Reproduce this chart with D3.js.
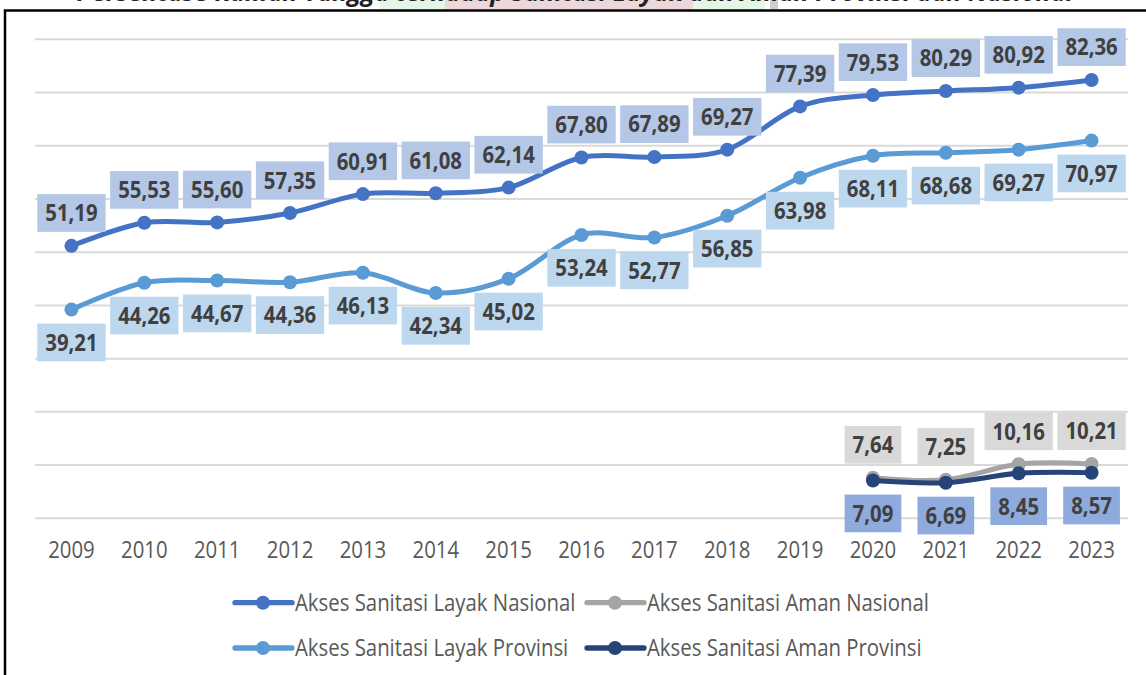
<!DOCTYPE html>
<html>
<head>
<meta charset="utf-8">
<script src="https://cdn.jsdelivr.net/npm/d3@7/dist/d3.min.js"></script>
<style>
  html, body { margin: 0; padding: 0; background: #fff; }
  svg { display: block; }
</style>
</head>
<body>
<svg id="chart" width="1146" height="675"></svg>
<script>
// ---- data ----
const years = [2009, 2010, 2011, 2012, 2013, 2014, 2015, 2016, 2017, 2018, 2019, 2020, 2021, 2022, 2023];
const layakNasional = [51.19, 55.53, 55.60, 57.35, 60.91, 61.08, 62.14, 67.80, 67.89, 69.27, 77.39, 79.53, 80.29, 80.92, 82.36];
const layakProvinsi = [39.21, 44.26, 44.67, 44.36, 46.13, 42.34, 45.02, 53.24, 52.77, 56.85, 63.98, 68.11, 68.68, 69.27, 70.97];
const amanNasional  = [null, null, null, null, null, null, null, null, null, null, null, 7.64, 7.25, 10.16, 10.21];
const amanProvinsi  = [null, null, null, null, null, null, null, null, null, null, null, 7.09, 6.69, 8.45, 8.57];
const yTicks = [0, 10, 20, 30, 40, 50, 60, 70, 80, 90];
const seriesNames = [
  "Akses Sanitasi Layak Nasional",
  "Akses Sanitasi Aman Nasional",
  "Akses Sanitasi Layak Provinsi",
  "Akses Sanitasi Aman Provinsi"
];
const titleText = "Persentase Rumah Tangga terhadap Sanitasi Layak dan Aman Provinsi dan Nasional";

// ---- styling ----
const FONT = "'Open Sans', 'Noto Sans', sans-serif";
const SX = 0.87;          // horizontal condensing of text
const FS = 23.4;          // font size for labels and axis
const series = [
  { name: seriesNames[0], values: layakNasional, color: "#4472c4", box: "#b4c7e7", pos: "above" },
  { name: seriesNames[2], values: layakProvinsi, color: "#5b9bd5", box: "#bdd7ee", pos: "below" },
  { name: seriesNames[1], values: amanNasional,  color: "#a5a5a5", box: "#d9d9d9", pos: "above" },
  { name: seriesNames[3], values: amanProvinsi,  color: "#264478", box: "#8faadc", pos: "below" }
];
const legendOrder = [
  { s: series[0], col: 0, row: 0 },
  { s: series[2], col: 1, row: 0 },
  { s: series[1], col: 0, row: 1 },
  { s: series[3], col: 1, row: 1 }
];

const svg = d3.select("#chart");
svg.append("rect").attr("width", 1146).attr("height", 675).attr("fill", "#fff");

// ---- title strip along the top edge ----
const strip = svg.append("g");
[[380, 445, "#e4f6e8"], [445, 693, "#ecd8db"], [693, 765, "#e2f7e6"], [770, 778, "#cfcfcf"]].forEach(([a, b, c]) => {
  strip.append("rect").attr("x", a).attr("y", 0).attr("width", b - a).attr("height", 9).attr("fill", c);
});
strip.append("text")
  .attr("x", 575).attr("y", 1)
  .attr("text-anchor", "middle")
  .attr("font-family", FONT).attr("font-size", 25)
  .attr("font-weight", "bold").attr("font-style", "italic")
  .attr("fill", "#222")
  .text(titleText);

// ---- frame ----
svg.append("rect")
  .attr("x", 5).attr("y", 10.5)
  .attr("width", 1160).attr("height", 700)
  .attr("fill", "none").attr("stroke", "#000").attr("stroke-width", 2.5);

// ---- scales ----
const x = d3.scaleBand().domain(years).range([35, 1128]);
const cx = yr => x(yr) + x.bandwidth() / 2;
const y = d3.scaleLinear().domain([0, 90]).range([518.3, 39.3]);

// ---- gridlines ----
svg.append("g").selectAll("line").data(yTicks).join("line")
  .attr("x1", 35).attr("x2", 1128)
  .attr("y1", d => y(d)).attr("y2", d => y(d))
  .attr("stroke", "#d9d9d9").attr("stroke-width", 2);

// ---- x axis ----
const xAxis = svg.append("g")
  .attr("transform", `translate(0,${y(0)})`)
  .call(d3.axisBottom(x).tickSize(0).tickPadding(0));
xAxis.select(".domain").remove();
xAxis.selectAll("text")
  .attr("y", 0).attr("dy", null)
  .attr("transform", `translate(0,40) scale(${SX},1)`)
  .attr("font-family", FONT).attr("font-size", FS)
  .attr("fill", "#595959");

// ---- lines & markers ----
const line = d3.line()
  .defined(d => d.v != null)
  .x(d => cx(d.year))
  .y(d => y(d.v))
  .curve(d3.curveCatmullRom.alpha(0));

const pts = s => years.map((yr, i) => ({ year: yr, v: s.values[i] }));

series.forEach(s => {
  svg.append("path")
    .datum(pts(s))
    .attr("d", line)
    .attr("fill", "none")
    .attr("stroke", s.color)
    .attr("stroke-width", 5)
    .attr("stroke-linecap", "round")
    .attr("stroke-linejoin", "round");
  svg.append("g").selectAll("circle")
    .data(pts(s).filter(d => d.v != null)).join("circle")
    .attr("cx", d => cx(d.year)).attr("cy", d => y(d.v))
    .attr("r", 7)
    .attr("fill", s.color);
});

// ---- data labels ----
const fmt = v => v.toFixed(2).replace(".", ",");
const BOX_H = 37.7, PAD_X = 8, GAP = 14;
series.forEach(s => {
  const g = svg.append("g");
  pts(s).filter(d => d.v != null).forEach(d => {
    const px = cx(d.year), py = y(d.v);
    const lg = g.append("g");
    const rect = lg.append("rect");
    const t = lg.append("text")
      .attr("text-anchor", "middle")
      .attr("font-family", FONT).attr("font-size", FS)
      .attr("font-weight", "bold").attr("fill", "#404040")
      .text(fmt(d.v));
    const w = t.node().getComputedTextLength() * SX + PAD_X * 2;
    const top = s.pos === "above" ? py - GAP - BOX_H : py + GAP;
    const mid = top + BOX_H / 2;
    rect.attr("x", px - w / 2).attr("y", top)
      .attr("width", w).attr("height", BOX_H)
      .attr("fill", s.box);
    t.attr("transform", `translate(${px},${mid + 8.35}) scale(${SX},1)`);
  });
});

// ---- legend ----
const legend = svg.append("g");
const colX = [235, 587], rowY = [602.7, 648];
legendOrder.forEach(({ s, col, row }) => {
  const lx = colX[col], ly = rowY[row];
  const item = legend.append("g").attr("transform", `translate(${lx},${ly})`);
  item.append("line").attr("x1", 0).attr("x2", 57).attr("y1", 0).attr("y2", 0)
    .attr("stroke", s.color).attr("stroke-width", 5.3).attr("stroke-linecap", "round");
  item.append("circle").attr("cx", 28).attr("cy", 0).attr("r", 7).attr("fill", s.color);
  item.append("text")
    .attr("transform", `translate(60,8.35) scale(${SX},1)`)
    .attr("font-family", FONT).attr("font-size", FS)
    .attr("fill", "#595959")
    .text(s.name);
});
</script>
</body>
</html>
